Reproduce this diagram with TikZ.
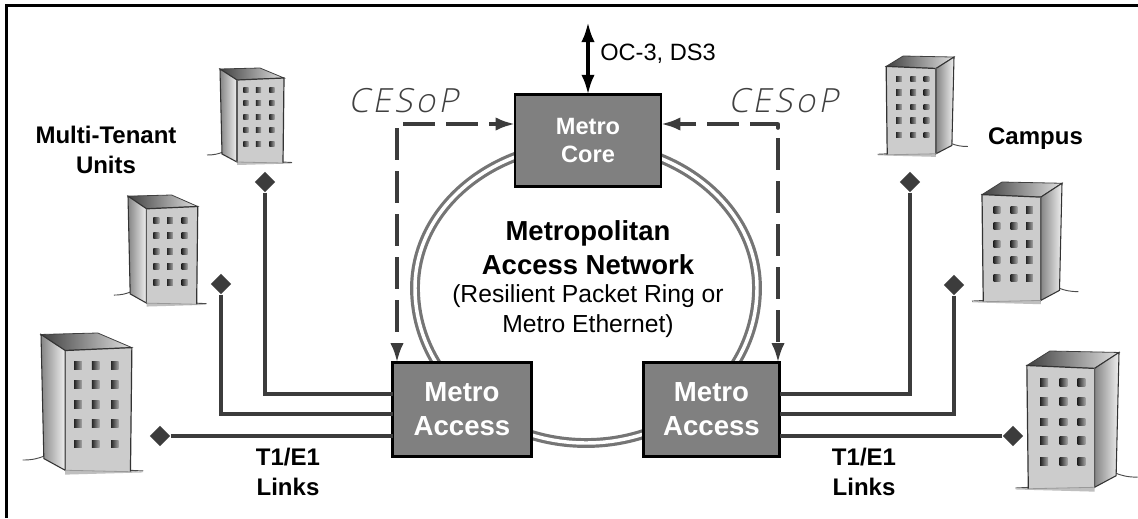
\documentclass[tikz,border=0pt]{standalone}
\usepackage{fontspec}
\setmainfont{Liberation Sans}
\newfontfamily\cesfont[LetterSpace=10,FakeSlant=0.2]{Open Sans Light}
\usetikzlibrary{arrows.meta,shapes.geometric,calc}
\definecolor{boxgray}{HTML}{808080}
\definecolor{linkgray}{HTML}{3C3C3C}
\definecolor{ringgray}{HTML}{757575}
\definecolor{facegray}{HTML}{CCCCCC}
\tikzset{
  netbox/.style={draw=black,line width=2.2pt,fill=boxgray,text=white,font=\bfseries,align=center,outer sep=0pt,inner sep=0pt},
  link/.style={draw=linkgray,line width=2.7pt},
  dashlink/.style={draw=linkgray,line width=2.7pt,dash pattern=on 24pt off 8.25pt,-{Latex[length=14.5pt,width=10pt]}},
  dashplain/.style={draw=linkgray,line width=2.7pt,dash pattern=on 24pt off 8.25pt},
  endmark/.style={diamond,fill=linkgray,inner sep=0pt,minimum width=15.5pt,minimum height=15.5pt},
  boldlabel/.style={font=\fontsize{18}{22}\selectfont\bfseries,align=center,inner sep=0pt},
  cestext/.style={font=\cesfont\fontsize{25}{28}\selectfont,text=black!75,inner sep=0pt,anchor=base west},
  frame/.style={line width=2.4pt,black}
}
% #1,#2 origin; #3,#4 scales; #5 far corner of the roof
\newcommand{\bldg}[5]{%
\begin{scope}[shift={(#1,#2)},xscale=#3,yscale=#4]
  \fill[black!25] (17,93) -- (63,94) -- (72,95.5) -- (17,97) -- cycle;
  \draw[black!70,line width=0.7pt] (-13,87) .. controls (-6,87) and (-2,86) .. (3,84);
  \draw[black!70,line width=0.7pt] (62,94) -- (72,94.5);
  \shade[left color=black!75,right color=black!12,draw=black!75,line width=0.6pt] (0,1) -- (#5,0) -- (64,10) -- (17,12) -- cycle;
  \shade[left color=black!48,right color=black!6,draw=black!80,line width=0.8pt] (0,1) -- (17,12) -- (17,94) -- (2,86) -- cycle;
  \fill[facegray] (17,12) -- (64,10) -- (63,95) -- (17,94) -- cycle;
  \draw[black!80,line width=0.9pt] (17,12) -- (64,10) -- (63,95);
  \draw[black!65,line width=0.8pt] (17,12) -- (17,94);
  \draw[black!40,line width=0.6pt] (17,94) -- (63,95);
  \foreach \wx in {26,38.5,52}{\foreach \wy in {22,35,49,62,76}{
    \shade[left color=black!85,right color=black!35] (\wx-2.7,\wy-2.7) rectangle (\wx+2.7,\wy+2.7);
  }}
\end{scope}}
\begin{document}
\begin{tikzpicture}[x=0.75pt,y=-0.75pt]
\useasboundingbox (0,0) rectangle (1138,518);
\fill[white] (0,0) rectangle (1138,518);
% frame
\coordinate (fa) at (6.5,518);
\coordinate (fb) at (6.5,5.5);
\coordinate (fc) at (1138,5.5);
\draw[frame] (fa) -- (fb) -- (fc);
% ring
\draw[ringgray,line width=7.4pt] (757,288) arc[start angle=0,end angle=180,x radius=171,y radius=155];
\draw[ringgray,line width=7.4pt] (415,288) arc[start angle=180,end angle=360,x radius=171,y radius=144];
\draw[white,line width=2.6pt] (757,288) arc[start angle=0,end angle=180,x radius=171,y radius=155];
\draw[white,line width=2.6pt] (415,288) arc[start angle=180,end angle=360,x radius=171,y radius=144];
% buildings
\bldg{220}{68}{1}{1}{40}
\bldg{128}{195}{1.09}{1.15}{40}
\bldg{41}{333}{1.42}{1.46}{40}
\bldg{954}{56}{-1.06}{1.04}{48}
\bldg{1062}{182}{-1.25}{1.26}{48}
\bldg{1119}{351}{-1.44}{1.45}{48}
% boxes
\node[netbox,minimum width=109.5pt,minimum height=68.5pt,font=\fontsize{17.7}{21}\selectfont\bfseries] (core) at (588,140.5) {Metro\\Core};
\node[netbox,minimum width=104pt,minimum height=70.5pt,font=\fontsize{20.7}{25.5}\selectfont\bfseries] (la) at (462,409.5) {Metro\\Access};
\node[netbox,minimum width=102pt,minimum height=70.5pt,font=\fontsize{20.7}{25.5}\selectfont\bfseries] (ra) at (711.5,409.5) {Metro\\Access};
% end marks
\node[endmark] (dl1) at (265,182) {};
\node[endmark] (dl2) at (221,284) {};
\node[endmark] (dl3) at (160,436) {};
\node[endmark] (dr1) at (910,182) {};
\node[endmark] (dr2) at (954,285) {};
\node[endmark] (dr3) at (1013,436) {};
\coordinate (la1) at (la.west |- 0,394);
\coordinate (la2) at (la.west |- 0,414);
\coordinate (la3) at (la.west |- 0,436);
\coordinate (ra1) at (ra.east |- 0,394);
\coordinate (ra2) at (ra.east |- 0,414);
\coordinate (ra3) at (ra.east |- 0,436);
\draw[link] (dl1) -- (dl1 |- la1) -- (la1);
\draw[link] (dl2) -- (dl2 |- la2) -- (la2);
\draw[link] (dl3) -- (la3);
\draw[link] (dr1) -- (dr1 |- ra1) -- (ra1);
\draw[link] (dr2) -- (dr2 |- ra2) -- (ra2);
\draw[link] (dr3) -- (ra3);
% top arrow
\coordinate (topend) at (588,22);
\draw[line width=2.8pt,{Latex[length=15pt,width=10pt]}-{Latex[length=15pt,width=10pt]}] (topend) -- (core.north -| topend);
% CESoP dashed links
\coordinate (cl1) at (403,124);
\coordinate (cl2) at (397,128);
\coordinate (cr1) at (778,124);
\coordinate (cr2) at (778,138);
\draw[dashlink] (cl1) -- (core.west |- cl1);
\draw[dashlink] (cl2) -- (la.north -| cl2);
\draw[dashlink,dash pattern=on 21pt off 8.25pt on 24pt off 8.25pt on 24pt off 8.25pt] (cr1) -- (core.east |- cr1);
\draw[dashplain,line cap=round] (cr1) -- ++(0,4);
\draw[dashlink] (cr2) -- (ra.north -| cr2);
% labels
\node[boldlabel,anchor=base] (mtu) at (106,173) {Multi-Tenant\\Units};
\node[boldlabel,anchor=base] (campus) at (1035.5,144) {Campus};
\node[boldlabel,anchor=base] (tl) at (288,495) {T1/E1\\Links};
\node[boldlabel,anchor=base] (tr) at (864,495) {T1/E1\\Links};
\node[anchor=base west,inner sep=0pt,font=\fontsize{17.7}{21}\selectfont] (oc) at (600,60.7) {OC-3, DS3};
\node[cestext] (ces1) at (348,112) {CESoP};
\node[cestext] (ces2) at (728,112) {CESoP};
\node[align=center,inner sep=0pt,font=\fontsize{20.6}{25.5}\selectfont\bfseries] (man) at (588,248) {Metropolitan\\Access Network};
\node[align=center,inner sep=0pt,font=\fontsize{18.5}{22.5}\selectfont] (sub) at (588,311) {(Resilient Packet Ring or\\Metro Ethernet)};
\end{tikzpicture}
\end{document}
